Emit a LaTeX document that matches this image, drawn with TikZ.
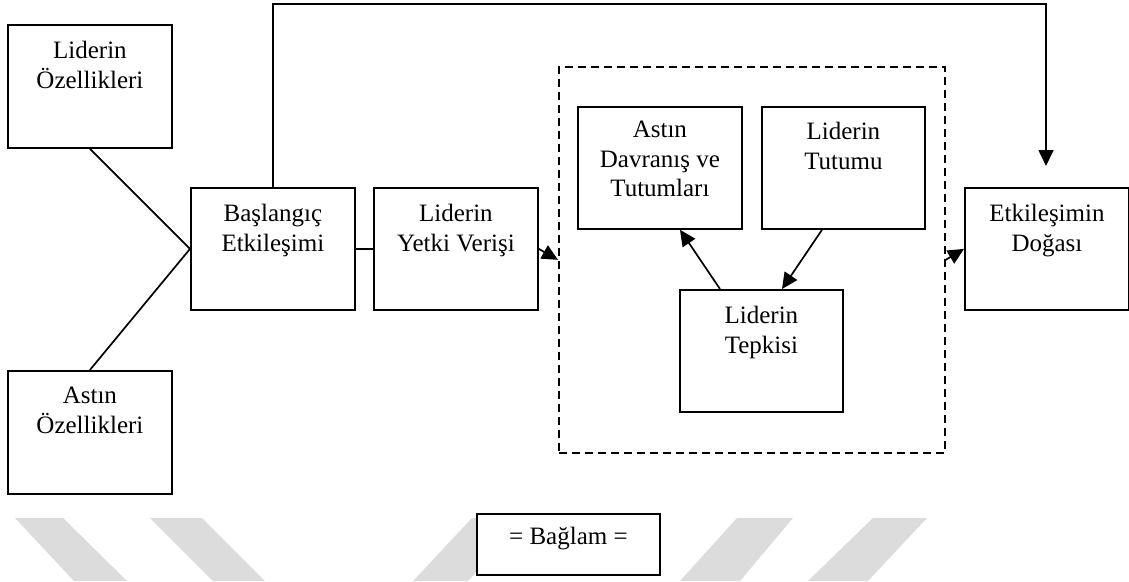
\documentclass[tikz,border=0pt]{standalone}
\usepackage{fontspec}
\setmainfont{Liberation Serif}
\usetikzlibrary{arrows.meta}
\definecolor{wm}{RGB}{220,220,220}
\tikzset{
  box/.style={draw, fill=white, line width=1.8pt, minimum width=164pt,
    minimum height=122pt, inner sep=0pt, anchor=north west},
  lbl/.style={anchor=north, inner sep=0pt, align=center,
    font=\fontsize{25}{29.5}\selectfont},
  ln/.style={line width=1.7pt},
  arr/.style={line width=1.7pt, -{Triangle[length=16pt,width=15pt]}},
  ctxbox/.style={draw, line width=1.7pt, dash pattern=on 8pt off 5pt,
    minimum width=386pt, minimum height=386pt, inner sep=0pt, anchor=north west},
}
\begin{document}
\begin{tikzpicture}[x=1pt, y=-1pt]
\useasboundingbox (0,0) rectangle (1129,581);
\fill[white] (0,0) rectangle (1129,581);

% watermark stripes along the bottom edge
\fill[wm] (15,518) -- (63,518) -- (127,581) -- (74,581) -- cycle;
\fill[wm] (150,518) -- (202,518) -- (265,581) -- (213,581) -- cycle;
\fill[wm] (472,518) -- (527,518) -- (468,581) -- (413,581) -- cycle;
\fill[wm] (737,518) -- (793,518) -- (740,581) -- (680,581) -- cycle;
\fill[wm] (873,518) -- (927,518) -- (868,581) -- (808,581) -- cycle;

% context frame
\node[ctxbox] (ctx) at (558,66) {};

% boxes
\node[box, minimum height=123pt] (lo) at (7,24) {};
\node[box, minimum height=123pt] (ao) at (7,370) {};
\node[box] (bi) at (190,187) {};
\node[box] (yv) at (373,187) {};
\node[box] (ad) at (577,106) {};
\node[box, minimum width=163pt] (tt) at (761,106) {};
\node[box, minimum width=163pt] (tp) at (679,289) {};
\node[box] (ed) at (964,187) {};
\node[box, minimum width=183pt, minimum height=61pt] (bg) at (476,513) {};

% labels
\node[lbl] at ([yshift=-17pt]lo.north) {Liderin\\Özellikleri};
\node[lbl] at ([yshift=-17pt]ao.north) {Astın\\Özellikleri};
\node[lbl] at ([yshift=-17pt]bi.north) {Başlangıç\\Etkileşimi};
\node[lbl] at ([yshift=-17pt]yv.north) {Liderin\\Yetki Verişi};
\node[lbl] at ([yshift=-15pt]ad.north) {Astın\\Davranış ve\\Tutumları};
\node[lbl] at ([yshift=-16pt]tt.north) {Liderin\\Tutumu};
\node[lbl] at ([yshift=-17pt]tp.north) {Liderin\\Tepkisi};
\node[lbl] at ([yshift=-17pt]ed.north) {Etkileşimin\\Doğası};
\node[lbl] at ([yshift=-14pt]bg.north) {= Bağlam =};

% connectors
\coordinate (topR) at (1046,4);
\coordinate (tipE) at (1046,166);
\draw[ln] (lo.south) -- (bi.west);
\draw[ln] (ao.north) -- (bi.west);
\draw[ln] (bi.east) -- (yv.west);
\draw[arr] (yv.east) -- (ctx.west);
\draw[arr] (ctx.east) -- (ed.west);
\draw[arr] (bi.north) |- (topR) -- (tipE);
\draw[arr] ([xshift=41pt]tp.north west) -- ([xshift=103pt]ad.south west);
\draw[arr] ([xshift=61pt]tt.south west) -- ([xshift=103pt]tp.north west);
\end{tikzpicture}
\end{document}
